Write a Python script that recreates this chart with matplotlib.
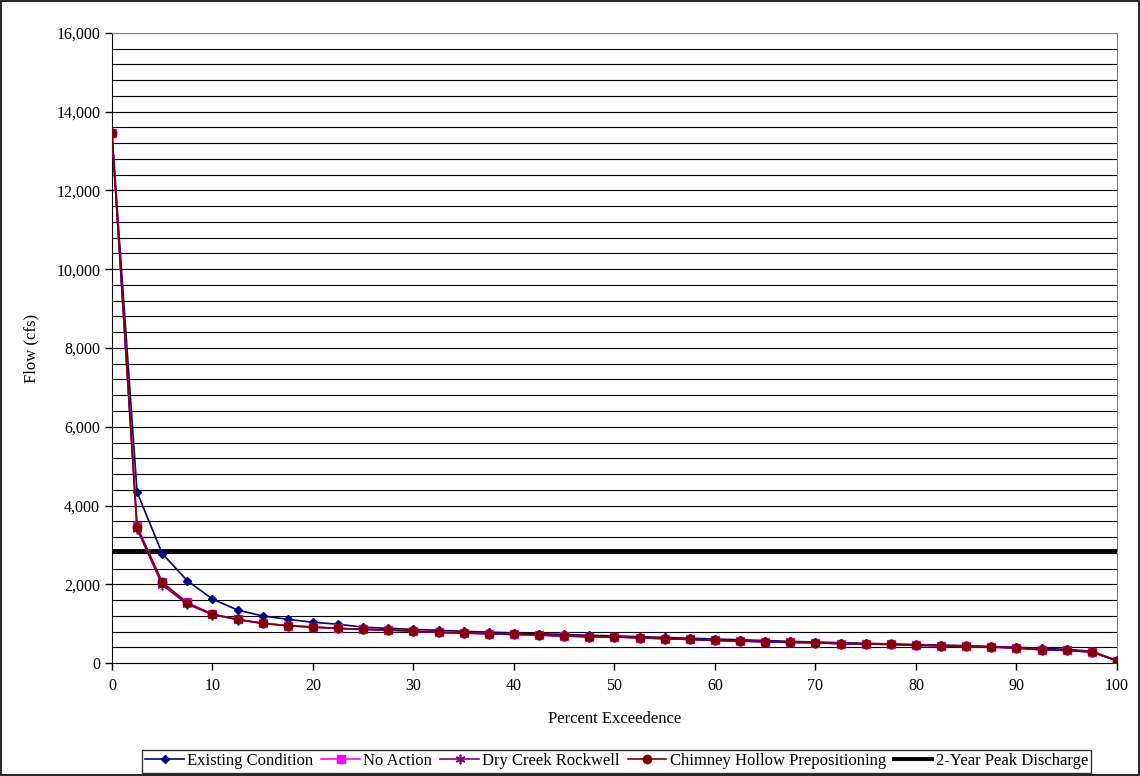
import matplotlib
matplotlib.use("Agg")
import matplotlib.pyplot as plt
from matplotlib.patches import Rectangle

# Flow duration data (percent exceedence vs flow, cfs)
pct = [i * 2.5 for i in range(41)]
existing = [13450, 4340, 2780, 2090, 1625, 1345, 1195, 1110, 1035, 985,
            910, 880, 855, 830, 805, 785, 765, 745, 725, 705,
            690, 670, 650, 630, 610, 590, 570, 550, 535, 515,
            500, 485, 470, 455, 440, 420, 400, 375, 345, 300, 65]
no_action = [13450, 3480, 2050, 1540, 1240, 1110, 1010, 950, 915, 880,
             855, 838, 813, 780, 762, 745, 728, 711, 686, 669,
             660, 643, 618, 600, 576, 558, 541, 525, 516, 491,
             483, 474, 449, 440, 423, 406, 381, 338, 322, 279, 59]
dry_creek = [13450, 3400, 1980, 1490, 1230, 1100, 1005, 945, 910, 878,
             852, 835, 810, 778, 760, 743, 726, 709, 684, 667,
             658, 641, 616, 598, 574, 556, 539, 523, 514, 489,
             481, 472, 447, 438, 421, 404, 379, 336, 320, 277, 58]
chimney = [13450, 3446, 2049, 1515, 1236, 1109, 1008, 948, 914, 880,
           856, 838, 813, 779, 762, 745, 728, 711, 686, 669,
           660, 643, 618, 600, 576, 558, 541, 525, 516, 491,
           483, 474, 449, 440, 423, 406, 381, 338, 322, 279, 59]
peak_2yr = 2840

plt.rcParams['font.family'] = ['Liberation Serif', 'DejaVu Serif']

fig = plt.figure(figsize=(11.4, 7.76), dpi=100)
ax = fig.add_axes([0.0982, 0.1456, 0.8816, 0.8119])

# horizontal gridlines every 400 cfs
for g in range(400, 16001, 400):
    ax.axhline(g, color='black', lw=0.8, zorder=1)

ax.plot(pct, existing, color='#000080', lw=1.2, marker='D', ms=4.5,
        label='Existing Condition', zorder=3)
ax.plot(pct, no_action, color='#FF00FF', lw=1.2, marker='s', ms=5.5,
        label='No Action', zorder=3)
ax.plot(pct, dry_creek, color='#800080', lw=1.2, marker=(6, 2, 0), ms=7,
        mew=1.2, label='Dry Creek Rockwell', zorder=3)
ax.plot(pct, chimney, color='#800000', lw=1.2, marker='o', ms=6,
        label='Chimney Hollow Prepositioning', zorder=4)
ax.axhline(peak_2yr, color='black', lw=2.8, label='2-Year Peak Discharge', zorder=2)

ax.set_xlim(0, 100)
ax.set_ylim(0, 16000)
ax.set_xticks(range(0, 101, 10))
ax.set_yticks(range(0, 16001, 2000))
ax.set_yticklabels([f"{v:,}" for v in range(0, 16001, 2000)])
ax.tick_params(direction='out', length=5, labelsize=11.5, width=1)
ax.tick_params(axis='x', pad=6)
ax.spines['right'].set_color('#808080')
ax.spines['top'].set_color('#808080')
ax.set_xlabel('Percent Exceedence', fontsize=12, labelpad=12)
ax.set_ylabel('Flow (cfs)', fontsize=12, labelpad=12)

leg = fig.legend(loc='center', bbox_to_anchor=(0.541, 0.019), ncol=5,
                 fontsize=12, frameon=True, fancybox=False, edgecolor='black',
                 handlelength=2.3, handletextpad=0.2, columnspacing=0.5,
                 borderpad=0.2, borderaxespad=0)
leg.get_frame().set_linewidth(1)

fig.patches.append(Rectangle((0.0005, 0.0007), 0.999, 0.9986, transform=fig.transFigure,
                             fill=False, edgecolor='black', lw=1.2))

fig.savefig('out.png', dpi=100)
